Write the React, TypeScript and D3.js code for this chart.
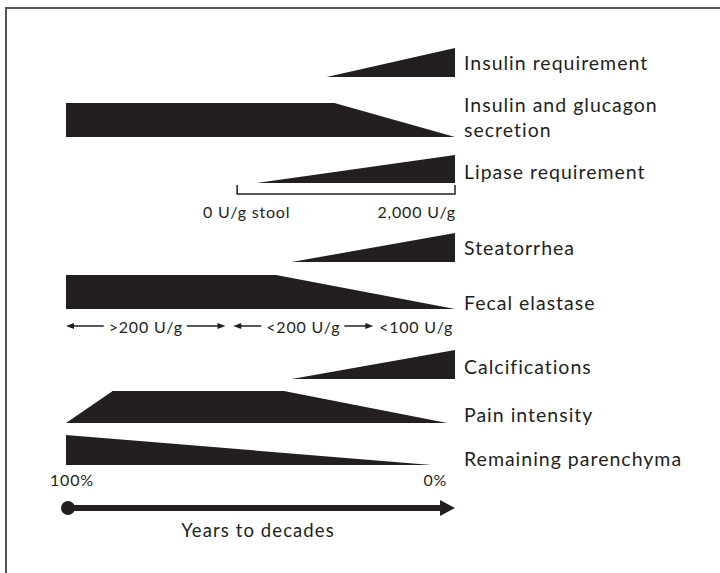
import React, { useEffect, useRef } from 'react';
import * as d3 from 'd3';

// row names, top to bottom
const categories = [
  'Insulin requirement',
  'Insulin and glucagon secretion',
  'Lipase requirement',
  'Steatorrhea',
  'Fecal elastase',
  'Calcifications',
  'Pain intensity',
  'Remaining parenchyma',
];

// each profile: [time in % of course, relative level 0..1]
const profiles: [number, number][][] = [
  [[67, 0], [100, 1]],
  [[0, 1], [69, 1], [100, 0]],
  [[49, 0], [100, 1]],
  [[58, 0], [100, 1]],
  [[0, 1], [54, 1], [100, 0]],
  [[58, 0], [100, 1]],
  [[0, 0], [12, 1], [56, 1], [98, 0]],
  [[0, 1], [94, 0]],
];

const lipaseTicks = ['0 U/g stool', '2,000 U/g'];
const lipaseRange = [44, 100];
const elastaseBands = ['>200 U/g', '<200 U/g', '<100 U/g'];
const elastaseSpans: [number, number][] = [[0, 41], [43, 79], [80, 100]];
const parenchymaTicks = ['100%', '0%'];
const axisLabel = 'Years to decades';

// layout of rows (bottom edge, max height, label centre lines)
const rowLayout = [
  { bottom: 77, h: 29, labels: [62] },
  { bottom: 137, h: 34, labels: [104, 129] },
  { bottom: 183, h: 28, labels: [171] },
  { bottom: 262, h: 29, labels: [247] },
  { bottom: 309, h: 34, labels: [302] },
  { bottom: 379, h: 29, labels: [366] },
  { bottom: 423, h: 32, labels: [414] },
  { bottom: 465, h: 30, labels: [458] },
];
const labelLines = [
  ['Insulin requirement'],
  ['Insulin and glucagon', 'secretion'],
  ['Lipase requirement'],
  ['Steatorrhea'],
  ['Fecal elastase'],
  ['Calcifications'],
  ['Pain intensity'],
  ['Remaining parenchyma'],
];

const W = 720;
const H = 573;
const ink = '#231f20';
const font = 'Lato, "Open Sans", sans-serif';

const App = () => {
  const ref = useRef<HTMLDivElement>(null);

  useEffect(() => {
    draw(ref.current);
  }, []);

  const small = (sel) => sel
    .attr('dominant-baseline', 'central')
    .attr('font-size', 16)
    .attr('letter-spacing', 0.8)
    .attr('fill', ink);

  const draw = (element) => {
    d3.select(element).select('svg').remove();
    const svg = d3.select(element)
      .append('svg')
      .attr('width', W)
      .attr('height', H)
      .style('position', 'absolute')
      .style('left', 0)
      .style('top', 0)
      .style('font-family', font);

    svg.append('rect').attr('width', W).attr('height', H).attr('fill', '#fff');

    // frame (only top and left visible)
    svg.append('path')
      .attr('d', `M6,${H} V8 H${W}`)
      .attr('fill', 'none')
      .attr('stroke', '#555')
      .attr('stroke-width', 2);

    const x = d3.scaleLinear().domain([0, 100]).range([66, 455]);

    categories.forEach((cat, i) => {
      const lay = rowLayout[i];
      const y = d3.scaleLinear().domain([0, 1]).range([lay.bottom, lay.bottom - lay.h]);
      const area = d3.area<[number, number]>()
        .x((d) => x(d[0]))
        .y0(lay.bottom)
        .y1((d) => y(d[1]));
      svg.append('path')
        .attr('d', area(profiles[i]))
        .attr('fill', ink);

      labelLines[i].forEach((line, j) => {
        svg.append('text')
          .attr('x', 464)
          .attr('y', lay.labels[j])
          .attr('dominant-baseline', 'central')
          .attr('font-size', 19.5)
          .attr('letter-spacing', 1)
          .attr('fill', ink)
          .text(line);
      });
    });

    // lipase bracket
    svg.append('path')
      .attr('d', `M${x(lipaseRange[0])},185 V194 H${x(lipaseRange[1])} V185`)
      .attr('fill', 'none')
      .attr('stroke', ink)
      .attr('stroke-width', 1.5);
    svg.append('text')
      .attr('x', 203).attr('y', 211)
      .call(small)
      .text(lipaseTicks[0]);
    svg.append('text')
      .attr('x', x(100) + 1).attr('y', 211)
      .attr('text-anchor', 'end')
      .call(small)
      .text(lipaseTicks[1]);

    // fecal elastase bands with arrows
    const arrowY = 326;
    const smallArrow = (x1, x2) => {
      const dir = Math.sign(x2 - x1);
      svg.append('line')
        .attr('x1', x1).attr('x2', x2 - dir * 5)
        .attr('y1', arrowY).attr('y2', arrowY)
        .attr('stroke', ink).attr('stroke-width', 1.5);
      svg.append('path')
        .attr('d', `M${x2},${arrowY} L${x2 - dir * 8},${arrowY - 3} L${x2 - dir * 8},${arrowY + 3} Z`)
        .attr('fill', ink);
    };
    elastaseBands.forEach((band, i) => {
      const [a, b] = elastaseSpans[i];
      const cx = (x(a) + x(b)) / 2;
      const t = svg.append('text')
        .attr('x', cx).attr('y', arrowY)
        .attr('text-anchor', 'middle')
        .call(small)
        .text(band);
      const half = (t.node() as SVGTextElement).getComputedTextLength() / 2;
      if (cx - half - 5 - x(a) > 10) {
        smallArrow(cx - half - 5, x(a));
        smallArrow(cx + half + 4, x(b));
      }
    });

    // remaining parenchyma ticks
    svg.append('text')
      .attr('x', x(0) - 16).attr('y', 479)
      .call(small)
      .text(parenchymaTicks[0]);
    svg.append('text')
      .attr('x', x(98)).attr('y', 479)
      .attr('text-anchor', 'end')
      .call(small)
      .text(parenchymaTicks[1]);

    // time axis
    const axisY = 508;
    svg.append('circle').attr('cx', x(0) + 2).attr('cy', axisY).attr('r', 7).attr('fill', ink);
    svg.append('line')
      .attr('x1', x(0) + 2).attr('x2', x(100) - 10)
      .attr('y1', axisY).attr('y2', axisY)
      .attr('stroke', ink).attr('stroke-width', 6);
    svg.append('path')
      .attr('d', `M${x(100)},${axisY} L${x(100) - 15},${axisY - 8} L${x(100) - 15},${axisY + 8} Z`)
      .attr('fill', ink);
    svg.append('text')
      .attr('x', 258).attr('y', 530)
      .attr('text-anchor', 'middle')
      .attr('dominant-baseline', 'central')
      .attr('font-size', 18.5)
      .attr('letter-spacing', 1.1)
      .attr('fill', ink)
      .text(axisLabel);
  };

  return <div ref={ref}></div>;
};

export default App;
